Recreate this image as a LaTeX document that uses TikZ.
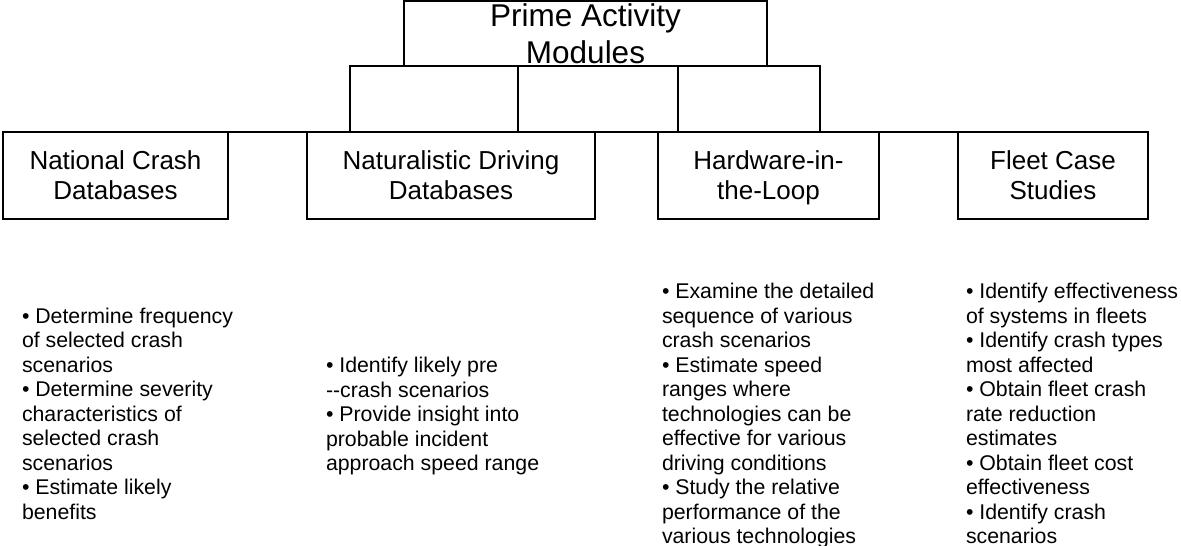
\documentclass[tikz,border=0pt]{standalone}
\usepackage{fontspec}
\setmainfont{Liberation Sans}
\newcommand\topfont{\fontsize{31.5}{37}\selectfont}
\newcommand\boxfont{\fontsize{26}{30}\selectfont}
\newcommand\bodyfont{\fontsize{21.3}{24.5}\selectfont}
\tikzset{
  box/.style={draw, line width=1.6pt, inner sep=0pt, outer sep=0pt, anchor=north west, align=center, minimum height=87pt, font=\boxfont},
  conn/.style={line width=1.6pt},
  body/.style={anchor=base west, inner sep=0pt, outer sep=0pt, font=\bodyfont},
}
\begin{document}
\begin{tikzpicture}[x=1pt,y=-1pt]
\fill[white] (0,0) rectangle (1181,546);
\useasboundingbox (0,0) rectangle (1181,546);

\node[box, minimum width=363pt, minimum height=65pt, font=\topfont] (top) at (404,1) {Prime Activity\\Modules};

\node[box, minimum width=225pt] (ncd) at (3,132) {National Crash\\Databases};
\node[box, minimum width=288pt] (ndd) at (307,132) {Naturalistic Driving\\Databases};
\node[box, minimum width=221pt] (hil) at (658,132) {Hardware-in-\\\smash{the-Loop}};
\node[box, minimum width=190pt] (fcs) at (958,132) {Fleet Case\\Studies};

\coordinate (b1) at (350,66);
\coordinate (b2) at (518,66);
\coordinate (b3) at (678,66);
\coordinate (b4) at (820,66);

\draw[conn] (b1 |- ndd.north) -- (b1) -- (b4) -- (b4 |- hil.north);
\draw[conn] (b2) -- (b2 |- ndd.north);
\draw[conn] (b3) -- (b3 |- hil.north);
\draw[conn] (ncd.north east) -- (ndd.north west);
\draw[conn] (ndd.north east) -- (hil.north west);
\draw[conn] (hil.north east) -- (fcs.north west);

\node[body] (t1) at (22,323) {\vtop{%
\hbox{• Determine frequency}
\hbox{of selected crash}
\hbox{scenarios}
\hbox{• Determine severity}
\hbox{characteristics of}
\hbox{selected crash}
\hbox{scenarios}
\hbox{• Estimate likely}
\hbox{benefits}}};

\node[body] (t2) at (326,372.5) {\vtop{%
\hbox{• Identify likely pre}
\hbox{-{}-crash scenarios}
\hbox{• Provide insight into}
\hbox{probable incident}
\hbox{approach speed range}}};

\node[body] (t3) at (662,298.5) {\vtop{%
\hbox{• Examine the detailed}
\hbox{sequence of various}
\hbox{crash scenarios}
\hbox{• Estimate speed}
\hbox{ranges where}
\hbox{technologies can be}
\hbox{effective for various}
\hbox{driving conditions}
\hbox{• Study the relative}
\hbox{performance of the}
\hbox{various technologies}}};

\node[body] (t4) at (966,298.5) {\vtop{%
\hbox{• Identify effectiveness}
\hbox{of systems in fleets}
\hbox{• Identify crash types}
\hbox{most affected}
\hbox{• Obtain fleet crash}
\hbox{rate reduction}
\hbox{estimates}
\hbox{• Obtain fleet cost}
\hbox{effectiveness}
\hbox{• Identify crash}
\hbox{scenarios}}};
\end{tikzpicture}
\end{document}
